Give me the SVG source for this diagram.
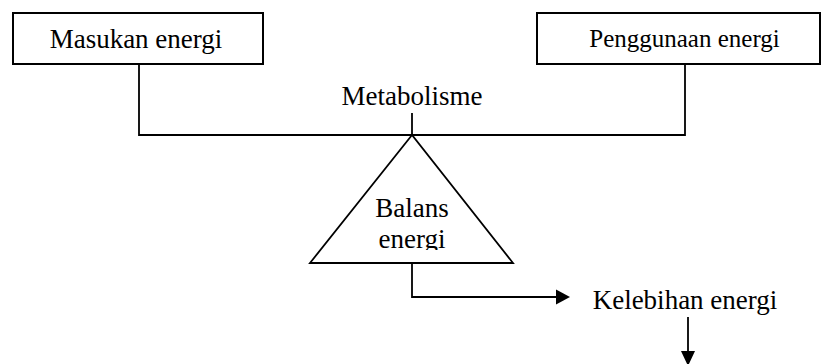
<svg xmlns="http://www.w3.org/2000/svg" width="822" height="364" viewBox="0 0 822 364">
<style>
.box{fill:#fff;stroke:#000;stroke-width:2}
.ln{fill:none;stroke:#000;stroke-width:1.8}
.t{font-family:"Liberation Serif","Times New Roman",serif;font-size:27px;fill:#000;text-anchor:middle}
.t25{font-size:25px}
</style>
<defs>
<clipPath id="clipTri"><rect x="300" y="130" width="230" height="120"/></clipPath>
</defs>
<rect x="0" y="0" width="822" height="364" fill="#fff"/>
<g id="connectors">
<polyline class="ln" points="139,64 139,135 685,135 685,64"/>
<line class="ln" x1="412" y1="113" x2="412" y2="135"/>
<polyline class="ln" points="412,263 412,297 557,297"/>
<polygon points="556,289.5 570,297 556,304.5" fill="#000"/>
<line class="ln" x1="688" y1="317" x2="688" y2="352"/>
<polygon points="681,351 695,351 688,366" fill="#000"/>
</g>
<g id="masukan">
<rect class="box" x="13" y="13" width="250" height="51"/>
<text class="t" x="136" y="47.5">Masukan energi</text>
</g>
<g id="penggunaan">
<rect class="box" x="537" y="13" width="283" height="51"/>
<text class="t t25" x="684.5" y="47">Penggunaan energi</text>
</g>
<g id="metabolisme">
<text class="t" x="412" y="105">Metabolisme</text>
</g>
<g id="balans">
<polygon class="ln" points="412,135 310,263 513,263"/>
<g clip-path="url(#clipTri)">
<text class="t" x="412" y="217">Balans</text>
<text class="t" x="412" y="248">energi</text>
</g>
</g>
<g id="kelebihan">
<text class="t" x="685" y="309">Kelebihan energi</text>
</g>
</svg>
